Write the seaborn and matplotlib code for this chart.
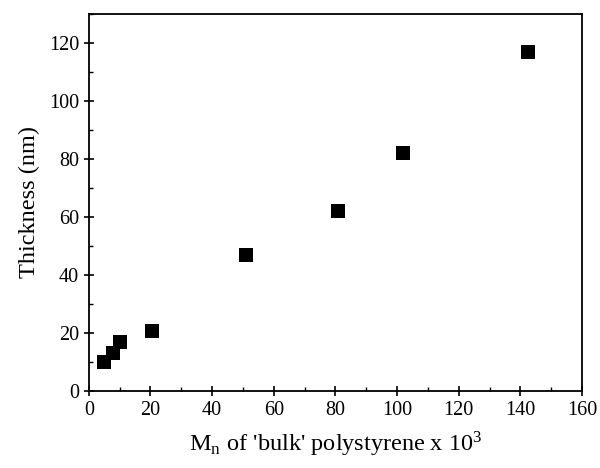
import matplotlib
matplotlib.use("Agg")
import matplotlib.pyplot as plt
import seaborn as sns
import pandas as pd
from matplotlib.ticker import MultipleLocator

mn = [4.8, 8.0, 10.0, 20.5, 51.0, 81.0, 102.0, 142.5]
thickness = [10.0, 13.0, 17.0, 20.5, 47.0, 62.0, 82.0, 117.0]

sns.set_style("ticks")
plt.rcParams['font.family'] = ['Liberation Serif', 'DejaVu Serif']
plt.rcParams['mathtext.fontset'] = 'stix'
plt.rcParams['text.color'] = 'black'
plt.rcParams['axes.labelcolor'] = 'black'
plt.rcParams['xtick.color'] = 'black'
plt.rcParams['ytick.color'] = 'black'

df = pd.DataFrame({"Mn": mn, "Thickness": thickness})

fig = plt.figure(figsize=(6, 4.68), dpi=100)
ax = fig.add_axes([0.148, 0.165, 0.822, 0.805])
sns.scatterplot(data=df, x="Mn", y="Thickness", marker="s", s=100,
                color="black", edgecolor="black", linewidth=0, ax=ax)

ax.set_xlim(0, 160)
ax.set_ylim(0, 130)
ax.xaxis.set_major_locator(MultipleLocator(20))
ax.xaxis.set_minor_locator(MultipleLocator(10))
ax.yaxis.set_major_locator(MultipleLocator(20))
ax.yaxis.set_minor_locator(MultipleLocator(10))
ax.tick_params(which="major", direction="inout", length=7, width=1.2, labelsize=14.5)
ax.tick_params(which="minor", direction="in", length=3, width=1.0)
for sp in ax.spines.values():
    sp.set_visible(True)
    sp.set_linewidth(1.3)
    sp.set_color("black")
ax.set_xlabel("M$_\\mathregular{n}$ of 'bulk' polystyrene x 10$^\\mathregular{3}$", fontsize=17.5, labelpad=7)
ax.set_ylabel("Thickness (nm)", fontsize=17.5, labelpad=6)

fig.savefig("out.png", dpi=100)
